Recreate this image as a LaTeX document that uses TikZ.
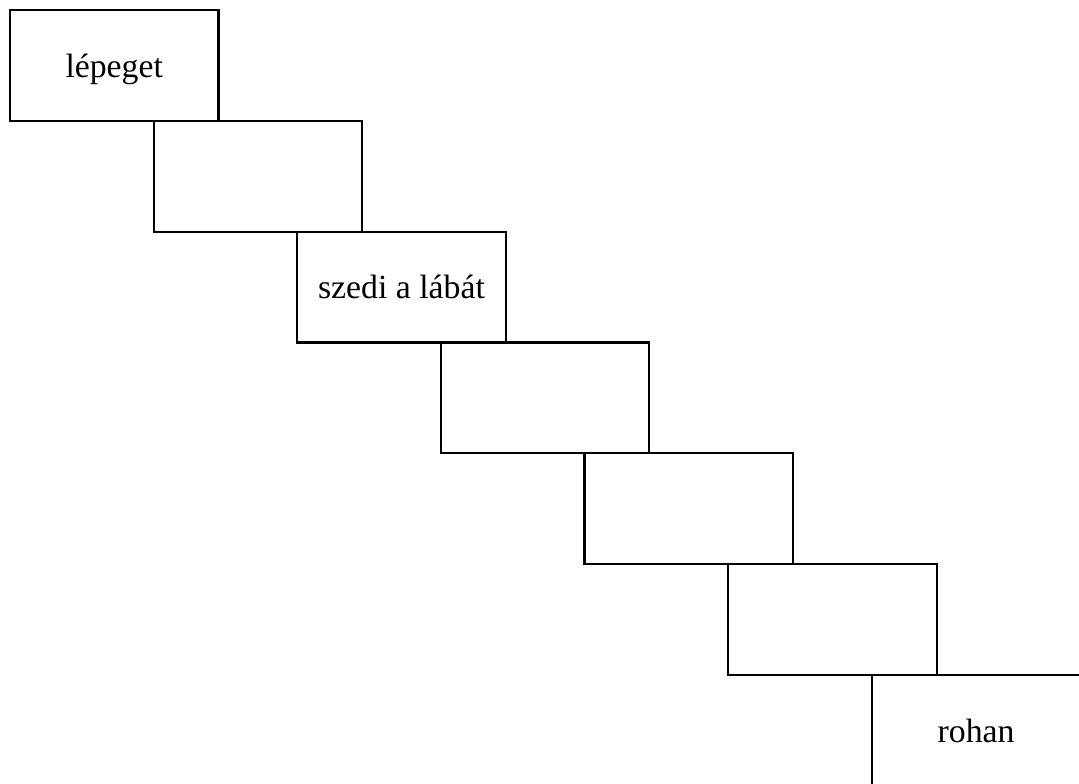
\documentclass[tikz,border=0pt]{standalone}
\usepackage{fontspec}
\setmainfont{Liberation Serif}
\usetikzlibrary{positioning}
\begin{document}
\begin{tikzpicture}[x=0.025cm, y=-0.025cm, node distance=0cm]
        \tikzstyle{stair}=[draw, rectangle, line width=1.6pt, outer sep=0pt, inner sep=0pt, text depth=0pt, minimum width=5.21cm, minimum height=2.77cm, align=center, font=\fontsize{24}{28}\selectfont];

        \useasboundingbox (0,0) rectangle (1079,783);
        \clip (0,0) rectangle (1079,783);

        \node[stair, anchor=north west] (s1) at (10,10) {lépeget};
        \node[stair, below right=0cm and -1.62cm of s1.south east] (s2) {};
        \node[stair, below right=0cm and -1.62cm of s2.south east] (s3) {szedi a lábát};
        \node[stair, below right=0cm and -1.62cm of s3.south east] (s4) {};
        \node[stair, below right=0cm and -1.62cm of s4.south east] (s5) {};
        \node[stair, below right=0cm and -1.62cm of s5.south east] (s6) {};
        \node[stair, below right=0cm and -1.62cm of s6.south east] (s7) {rohan};
    \end{tikzpicture}
\end{document}
